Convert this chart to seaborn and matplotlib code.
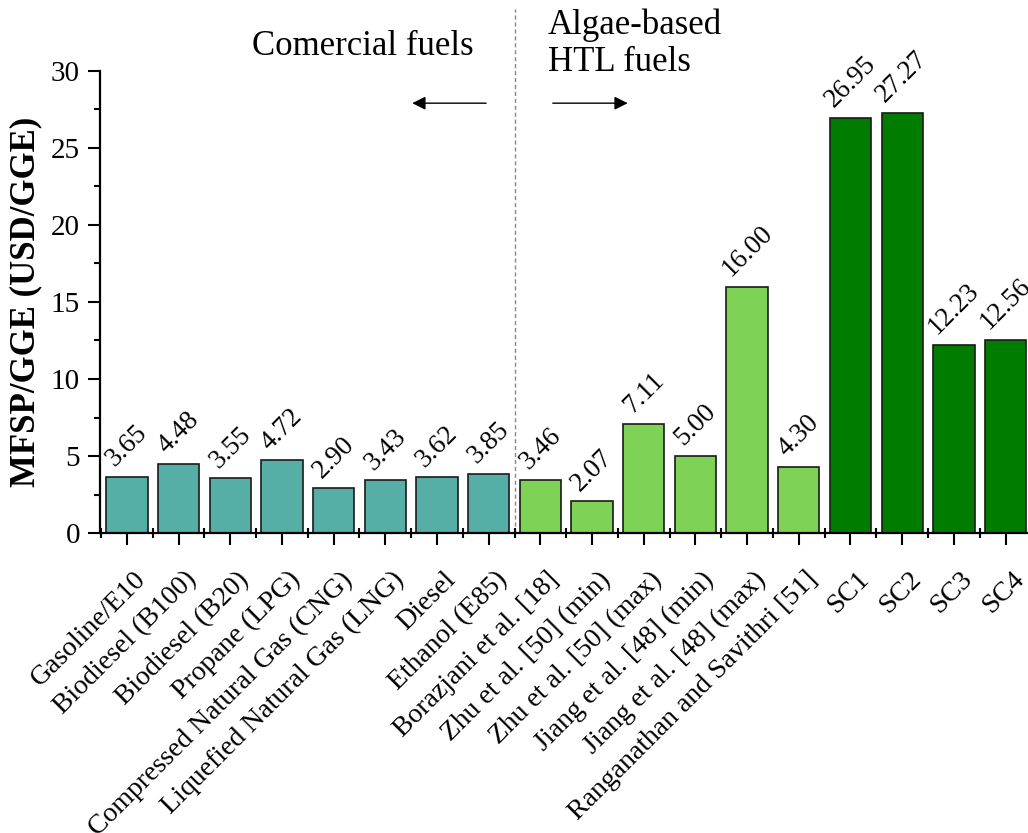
import matplotlib
matplotlib.use("Agg")
import matplotlib.pyplot as plt
from matplotlib.ticker import MultipleLocator, FixedLocator
from matplotlib.transforms import ScaledTranslation
import seaborn as sns
import pandas as pd

# Fuel cost data (MFSP per gallon of gasoline equivalent)
fuels = [
    "Gasoline/E10", "Biodiesel (B100)", "Biodiesel (B20)", "Propane (LPG)",
    "Compressed Natural Gas (CNG)", "Liquefied Natural Gas (LNG)", "Diesel",
    "Ethanol (E85)", "Borazjani et al. [18]", "Zhu et al. [50] (min)",
    "Zhu et al. [50] (max)", "Jiang et al. [48] (min)", "Jiang et al. [48] (max)",
    "Ranganathan and Savithri [51]", "SC1", "SC2", "SC3", "SC4",
]
mfsp = [3.65, 4.48, 3.55, 4.72, 2.90, 3.43, 3.62, 3.85,
        3.46, 2.07, 7.11, 5.00, 16.00, 4.30,
        26.95, 27.27, 12.23, 12.56]
group = (["commercial"] * 8) + (["literature"] * 6) + (["scenario"] * 4)

palette = {"commercial": "#56AFA7", "literature": "#7ED255", "scenario": "#007D00"}

df = pd.DataFrame({"fuel": fuels, "mfsp": mfsp, "group": group})

sns.set_style("ticks")
plt.rcParams["font.family"] = ["Liberation Serif", "DejaVu Serif"]
for key in ("text.color", "axes.labelcolor", "xtick.color", "ytick.color"):
    plt.rcParams[key] = "black"

fig = plt.figure(figsize=(10.28, 8.33), dpi=100)
ax = fig.add_axes([0.0973, 0.36, 0.907, 0.555])

sns.barplot(data=df, x="fuel", y="mfsp", hue="group", palette=palette,
            dodge=False, width=0.8, edgecolor="#1a1a1a", linewidth=1.2,
            legend=False, ax=ax, saturation=1)

ax.set_xlim(-0.52, 17.52)
ax.set_ylim(0, 30)
ax.yaxis.set_major_locator(MultipleLocator(5))
ax.yaxis.set_minor_locator(MultipleLocator(2.5))
ax.xaxis.set_minor_locator(FixedLocator([i - 0.5 for i in range(len(fuels) + 1)]))

for s in ("top", "right"):
    ax.spines[s].set_visible(False)
for s in ("left", "bottom"):
    ax.spines[s].set_linewidth(1.6)
    ax.spines[s].set_color("black")

ax.tick_params(axis="y", which="major", length=8.5, width=1.5, labelsize=21, pad=6)
ax.tick_params(axis="y", which="minor", length=4, width=1.5)
ax.tick_params(axis="x", which="major", length=8.5, width=1.5, labelsize=20, pad=16)
ax.tick_params(axis="x", which="minor", length=7, width=1.5, direction="inout")

ax.set_xticks(range(len(fuels)))
ax.set_xticklabels(fuels, rotation=45, ha="right", va="top", rotation_mode="anchor")
shift = ScaledTranslation(0.06, 0, fig.dpi_scale_trans)
for lbl in ax.get_xticklabels():
    lbl.set_transform(lbl.get_transform() + shift)
ax.set_xlabel("")
ax.set_ylabel("MFSP/GGE (USD/GGE)", fontsize=25, fontweight="bold", labelpad=6)

# value labels above each bar
for i, v in enumerate(mfsp):
    ax.text(i, v + 0.35, f"{v:.2f}", rotation=45, ha="center", va="bottom",
            fontsize=19.5)

# separator between commercial and algae-based fuels
ax.plot([7.5, 7.5], [0, 34], linestyle=(0, (3, 2)), color="#888888",
        linewidth=1, clip_on=False, zorder=0)

ax.text(4.57, 31.6, "Comercial fuels", fontsize=25, ha="center", va="center")
ax.text(8.14, 31.75, "Algae-based\nHTL fuels", fontsize=25, ha="left", va="center",
        linespacing=1.15)

arrow_style = dict(arrowstyle="-|>", color="black", lw=1,
                   mutation_scale=20, shrinkA=0, shrinkB=0)
ax.annotate("", xy=(5.52, 27.9), xytext=(6.95, 27.9),
            arrowprops=arrow_style, annotation_clip=False)
ax.annotate("", xy=(9.69, 27.9), xytext=(8.24, 27.9),
            arrowprops=arrow_style, annotation_clip=False)

fig.savefig("out.png", dpi=100)
